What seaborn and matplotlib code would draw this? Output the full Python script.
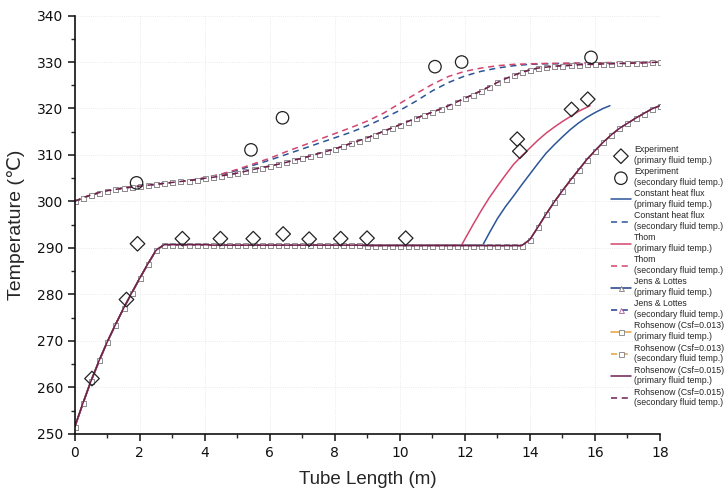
import numpy as np
import matplotlib
matplotlib.use("Agg")
import matplotlib.pyplot as plt
from matplotlib.ticker import MultipleLocator
import seaborn as sns

# Experimental data
exp_pri_x = [0.53, 1.59, 1.93, 3.31, 4.48, 5.49, 6.41, 7.21, 8.18, 8.99, 10.18, 13.61, 13.69, 15.28, 15.78]
exp_pri_t = [261.9, 278.9, 290.9, 292.0, 292.0, 292.0, 293.0, 291.9, 292.0, 292.1, 292.1, 313.4, 310.8, 319.8, 322.0]
exp_sec_x = [1.90, 5.42, 6.39, 11.08, 11.90, 15.88]
exp_sec_t = [304.0, 311.1, 318.0, 329.0, 330.0, 331.0]

# Jens & Lottes / Rohsenow (curves coincide), sampled every 0.25 m
model_x = np.arange(0, 18.01, 0.25)
model_pri_t = [251.5, 256.6, 261.4, 265.8, 269.8, 273.5, 277.0, 280.3, 283.5, 286.6,
               289.5, 290.7, 290.7, 290.7, 290.7, 290.7, 290.7, 290.6, 290.6, 290.6,
               290.6, 290.6, 290.6, 290.6, 290.6, 290.6, 290.6, 290.6, 290.6, 290.6,
               290.6, 290.6, 290.6, 290.6, 290.6, 290.6, 290.5, 290.5, 290.5, 290.5,
               290.5, 290.5, 290.5, 290.5, 290.5, 290.5, 290.5, 290.5, 290.5, 290.5,
               290.5, 290.5, 290.5, 290.5, 290.5, 290.5, 291.8, 294.5, 297.3, 299.9,
               302.3, 304.6, 306.8, 309.0, 310.9, 312.7, 314.3, 315.7, 316.8, 317.9,
               318.9, 319.9, 320.6]
model_sec_t = [300.0, 300.8, 301.4, 301.9, 302.3, 302.6, 302.9, 303.1, 303.3, 303.5,
               303.7, 303.9, 304.1, 304.3, 304.5, 304.7, 305.0, 305.2, 305.5, 305.8,
               306.1, 306.5, 306.9, 307.3, 307.6, 308.0, 308.4, 308.9, 309.3, 309.8,
               310.3, 310.8, 311.3, 311.9, 312.5, 313.1, 313.7, 314.4, 315.1, 315.8,
               316.5, 317.2, 317.9, 318.6, 319.2, 319.9, 320.6, 321.4, 322.2, 323.0,
               323.8, 324.7, 325.6, 326.4, 327.1, 327.8, 328.3, 328.7, 328.9, 329.1,
               329.2, 329.3, 329.4, 329.5, 329.5, 329.6, 329.6, 329.7, 329.7, 329.8,
               329.8, 329.9, 330.0]

# Constant heat flux
chf_pri_x = [0, 0.5, 1.0, 1.5, 2.0, 2.5, 2.75, 12.55, 12.75, 13.0, 13.25, 13.5, 13.75,
             14.0, 14.25, 14.5, 14.75, 15.0, 15.25, 15.5, 15.75, 16.0, 16.25, 16.46]
chf_pri_t = [251.5, 261.4, 269.8, 277.0, 283.5, 289.5, 290.7, 290.6, 293.2, 296.3, 298.9,
             301.2, 303.6, 305.9, 308.2, 310.4, 312.2, 313.9, 315.5, 316.9, 318.1, 319.1,
             320.0, 320.6]
# Thom
thom_pri_x = [0, 0.5, 1.0, 1.5, 2.0, 2.5, 2.75, 11.9, 12.0, 12.25, 12.5, 12.75, 13.0,
              13.25, 13.5, 13.75, 14.0, 14.25, 14.5, 14.75, 15.0, 15.25, 15.5, 15.85]
thom_pri_t = [251.5, 261.4, 269.8, 277.0, 283.5, 289.5, 290.7, 290.6, 291.9, 295.0, 298.0,
              300.8, 303.3, 305.7, 308.0, 309.8, 311.5, 313.2, 314.7, 316.0, 317.2, 318.3,
              319.4, 320.6]

sec_x = np.arange(0, 18.01, 0.5)
chf_sec_t = [300.0, 301.4, 302.3, 302.9, 303.3, 303.7, 304.1, 304.5, 305.0, 305.8,
             306.7, 307.8, 308.9, 310.1, 311.3, 312.5, 313.7, 314.9, 316.3, 317.9,
             319.6, 321.6, 323.8, 325.6, 327.0, 328.0, 328.7, 329.2, 329.5, 329.6,
             329.7, 329.7, 329.8, 329.8, 329.9, 329.9, 330.0]
thom_sec_t = [300.0, 301.4, 302.3, 302.9, 303.3, 303.7, 304.1, 304.5, 305.1, 305.9,
              306.9, 308.1, 309.3, 310.7, 312.0, 313.3, 314.6, 315.9, 317.3, 319.0,
              321.1, 323.2, 325.2, 326.9, 328.0, 328.7, 329.2, 329.5, 329.6, 329.7,
              329.7, 329.8, 329.8, 329.9, 329.9, 329.9, 330.0]

sns.set_style("ticks")
plt.rcParams['font.family'] = ['DejaVu Sans']

fig, ax = plt.subplots(figsize=(7.26, 5.01), dpi=100)
fig.subplots_adjust(left=0.103, right=0.909, bottom=0.134, top=0.969)

c_chf = "#2a5599"
c_thom = "#d2466e"
c_jl = "#1e3c8c"
c_r13 = "#e6a03c"
c_r15 = "#6e1e50"
dash = (0, (4, 3))
lw = 1.1
mk = dict(markersize=3.6, markerfacecolor="white", markeredgewidth=0.6)

sns.lineplot(x=chf_pri_x, y=chf_pri_t, color=c_chf, lw=lw, ax=ax,
             label="Constant heat flux\n(primary fluid temp.)")
sns.lineplot(x=sec_x, y=chf_sec_t, color=c_chf, lw=lw, ls=dash, ax=ax,
             label="Constant heat flux\n(secondary fluid temp.)")
sns.lineplot(x=thom_pri_x, y=thom_pri_t, color=c_thom, lw=lw, ax=ax,
             label="Thom\n(primary fluid temp.)")
sns.lineplot(x=sec_x, y=thom_sec_t, color=c_thom, lw=lw, ls=dash, ax=ax,
             label="Thom\n(secondary fluid temp.)")
sns.lineplot(x=model_x, y=model_pri_t, color=c_jl, lw=lw, marker="^",
             markeredgecolor="#7a7a7a", ax=ax, label="Jens & Lottes\n(primary fluid temp.)", **mk)
sns.lineplot(x=model_x, y=model_sec_t, color=c_jl, lw=lw, ls=dash, marker="^",
             markeredgecolor="#b0609a", ax=ax, label="Jens & Lottes\n(secondary fluid temp.)", **mk)
sns.lineplot(x=model_x, y=model_pri_t, color=c_r13, lw=lw, marker="s",
             markeredgecolor="#808080", ax=ax, label="Rohsenow (Csf=0.013)\n(primary fluid temp.)", **mk)
sns.lineplot(x=model_x, y=model_sec_t, color=c_r13, lw=lw, ls=dash, marker="s",
             markeredgecolor="#808080", ax=ax, label="Rohsenow (Csf=0.013)\n(secondary fluid temp.)", **mk)
sns.lineplot(x=model_x, y=model_pri_t, color=c_r15, lw=lw, ax=ax,
             label="Rohsenow (Csf=0.015)\n(primary fluid temp.)")
sns.lineplot(x=model_x, y=model_sec_t, color=c_r15, lw=lw, ls=dash, ax=ax,
             label="Rohsenow (Csf=0.015)\n(secondary fluid temp.)")

sns.scatterplot(x=exp_pri_x, y=exp_pri_t, marker="D", s=55, facecolor="none",
                edgecolor="#222222", linewidth=0.9, ax=ax, zorder=5,
                label="Experiment\n(primary fluid temp.)")
sns.scatterplot(x=exp_sec_x, y=exp_sec_t, marker="o", s=80, facecolor="none",
                edgecolor="#222222", linewidth=0.9, ax=ax, zorder=5,
                label="Experiment\n(secondary fluid temp.)")

ax.set_xlim(0, 18)
ax.set_ylim(250, 340)
ax.xaxis.set_major_locator(MultipleLocator(2))
ax.xaxis.set_minor_locator(MultipleLocator(1))
ax.yaxis.set_major_locator(MultipleLocator(10))
ax.yaxis.set_minor_locator(MultipleLocator(5))
ax.tick_params(which="major", direction="out", length=5, width=1.1, labelsize=10, colors="#111111")
ax.tick_params(which="minor", direction="out", length=3, width=1.0)
ax.grid(True, which="major", color="#e4e4e4", ls=":", lw=0.6)
sns.despine(ax=ax)
for s in ["left", "bottom"]:
    ax.spines[s].set_linewidth(1.2)
    ax.spines[s].set_color("#111111")

ax.set_xlabel("Tube Length (m)", fontsize=13.5, family=["Liberation Sans", "DejaVu Sans"], labelpad=8)
ax.set_ylabel("Temperature (\u2103)", fontsize=14, family=["Liberation Sans", "DejaVu Sans"], labelpad=8)

handles, labels = ax.get_legend_handles_labels()
order = labels[-2:] + labels[:-2]
lookup = dict(zip(labels, handles))
ax.legend([lookup[l] for l in order], order, loc="upper left",
          bbox_to_anchor=(0.842, 0.71), bbox_transform=fig.transFigure,
          frameon=False, handlelength=2.2, handletextpad=0.4,
          labelspacing=0.3, borderpad=0, borderaxespad=0,
          prop={"family": ["Liberation Sans", "DejaVu Sans"], "size": 6.3})

fig.savefig("out.png", dpi=100)
